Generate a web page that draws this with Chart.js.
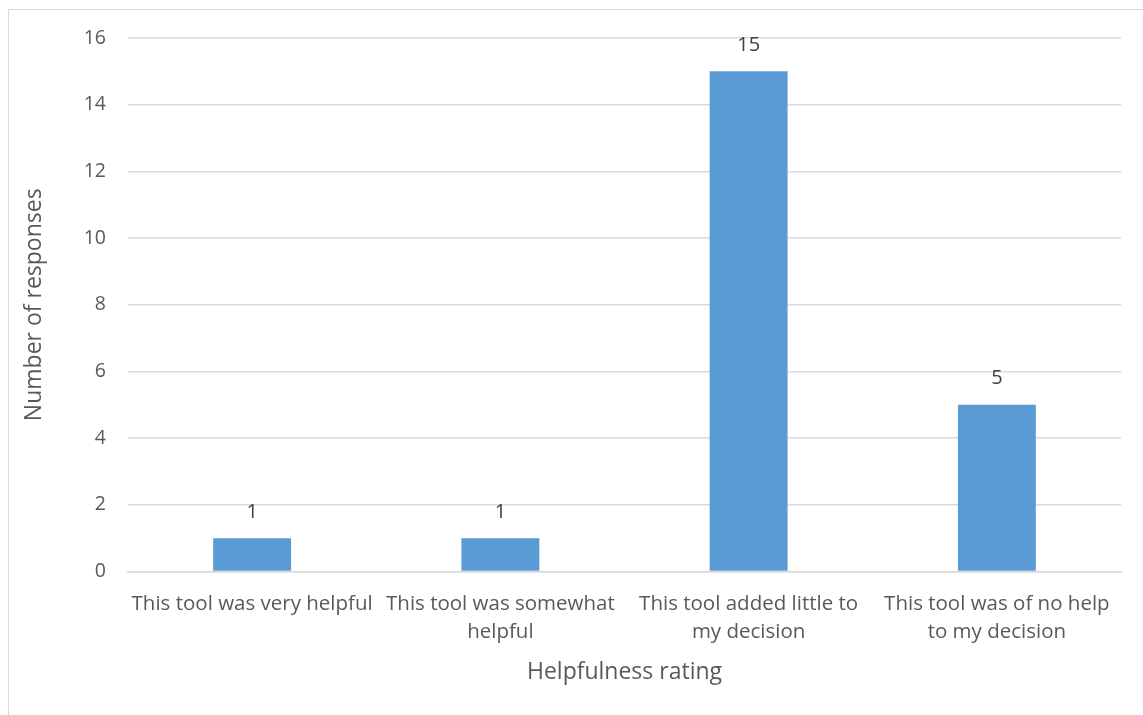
<!DOCTYPE html>
<html>
<head>
<meta charset="utf-8">
<script src="https://cdn.jsdelivr.net/npm/chart.js@4/dist/chart.umd.min.js"></script>
<style>
  html, body { margin: 0; padding: 0; background: #fff; }
  #wrap { width: 1143px; height: 715px; position: relative; }
</style>
</head>
<body>
<div id="wrap"><canvas id="c" width="1143" height="715"></canvas></div>
<script>
// Survey: how helpful respondents found the tool
const categories = [
  ["This tool was very helpful"],
  ["This tool was somewhat", "helpful"],
  ["This tool added little to", "my decision"],
  ["This tool was of no help", "to my decision"]
];
const responses = [1, 1, 15, 5];
const yTicks = [0, 2, 4, 6, 8, 10, 12, 14, 16];

const FONT = "'Open Sans', sans-serif";
const TEXT = '#595959';
const GRID = '#d9d9d9';

// Outer chart frame (left and top edges sit inside the canvas)
const framePlugin = {
  id: 'frame',
  beforeDraw(chart) {
    const ctx = chart.ctx;
    ctx.save();
    ctx.strokeStyle = GRID;
    ctx.lineWidth = 1;
    ctx.beginPath();
    ctx.moveTo(8.5, 720);
    ctx.lineTo(8.5, 9.5);
    ctx.lineTo(1150, 9.5);
    ctx.stroke();
    ctx.restore();
  }
};

// Value labels above each bar
const valueLabels = {
  id: 'valueLabels',
  afterDatasetsDraw(chart) {
    const ctx = chart.ctx;
    const meta = chart.getDatasetMeta(0);
    const data = chart.data.datasets[0].data;
    ctx.save();
    ctx.font = '20px ' + FONT;
    ctx.fillStyle = '#404040';
    ctx.textAlign = 'center';
    ctx.textBaseline = 'middle';
    meta.data.forEach((bar, i) => {
      ctx.fillText(String(data[i]), bar.x, bar.y - 26);
    });
    ctx.restore();
  }
};

new Chart(document.getElementById('c'), {
  type: 'bar',
  data: {
    labels: categories,
    datasets: [{
      data: responses,
      backgroundColor: '#5b9bd5',
      borderWidth: 0,
      categoryPercentage: 1,
      barPercentage: 0.314
    }]
  },
  options: {
    responsive: false,
    animation: false,
    devicePixelRatio: 1,
    layout: { padding: { left: 0, top: 38, right: 22, bottom: 0 } },
    plugins: { legend: { display: false }, tooltip: { enabled: false } },
    scales: {
      x: {
        grid: { display: false, drawTicks: false },
        border: { display: true, color: GRID, width: 1.5 },
        ticks: {
          color: TEXT,
          font: { family: FONT, size: 20.5, lineHeight: 1.37 },
          padding: 19,
          maxRotation: 0,
          autoSkip: false
        },
        title: {
          display: true,
          text: 'Helpfulness rating',
          color: TEXT,
          font: { family: FONT, size: 23 },
          padding: { top: 0, bottom: 29 }
        },
        afterFit(scale) { scale.height = 143.5; }
      },
      y: {
        min: 0,
        max: 16,
        afterBuildTicks(scale) { scale.ticks = yTicks.map(v => ({ value: v })); },
        grid: { color: GRID, lineWidth: 1.5, drawTicks: false },
        border: { display: false },
        ticks: {
          color: TEXT,
          font: { family: FONT, size: 19.5 },
          padding: 22
        },
        title: {
          display: true,
          text: 'Number of responses',
          color: TEXT,
          font: { family: FONT, size: 23 },
          padding: { top: 21, bottom: 0 }
        },
        afterFit(scale) { scale.width = 128; }
      }
    }
  },
  plugins: [framePlugin, valueLabels]
});
</script>
</body>
</html>
